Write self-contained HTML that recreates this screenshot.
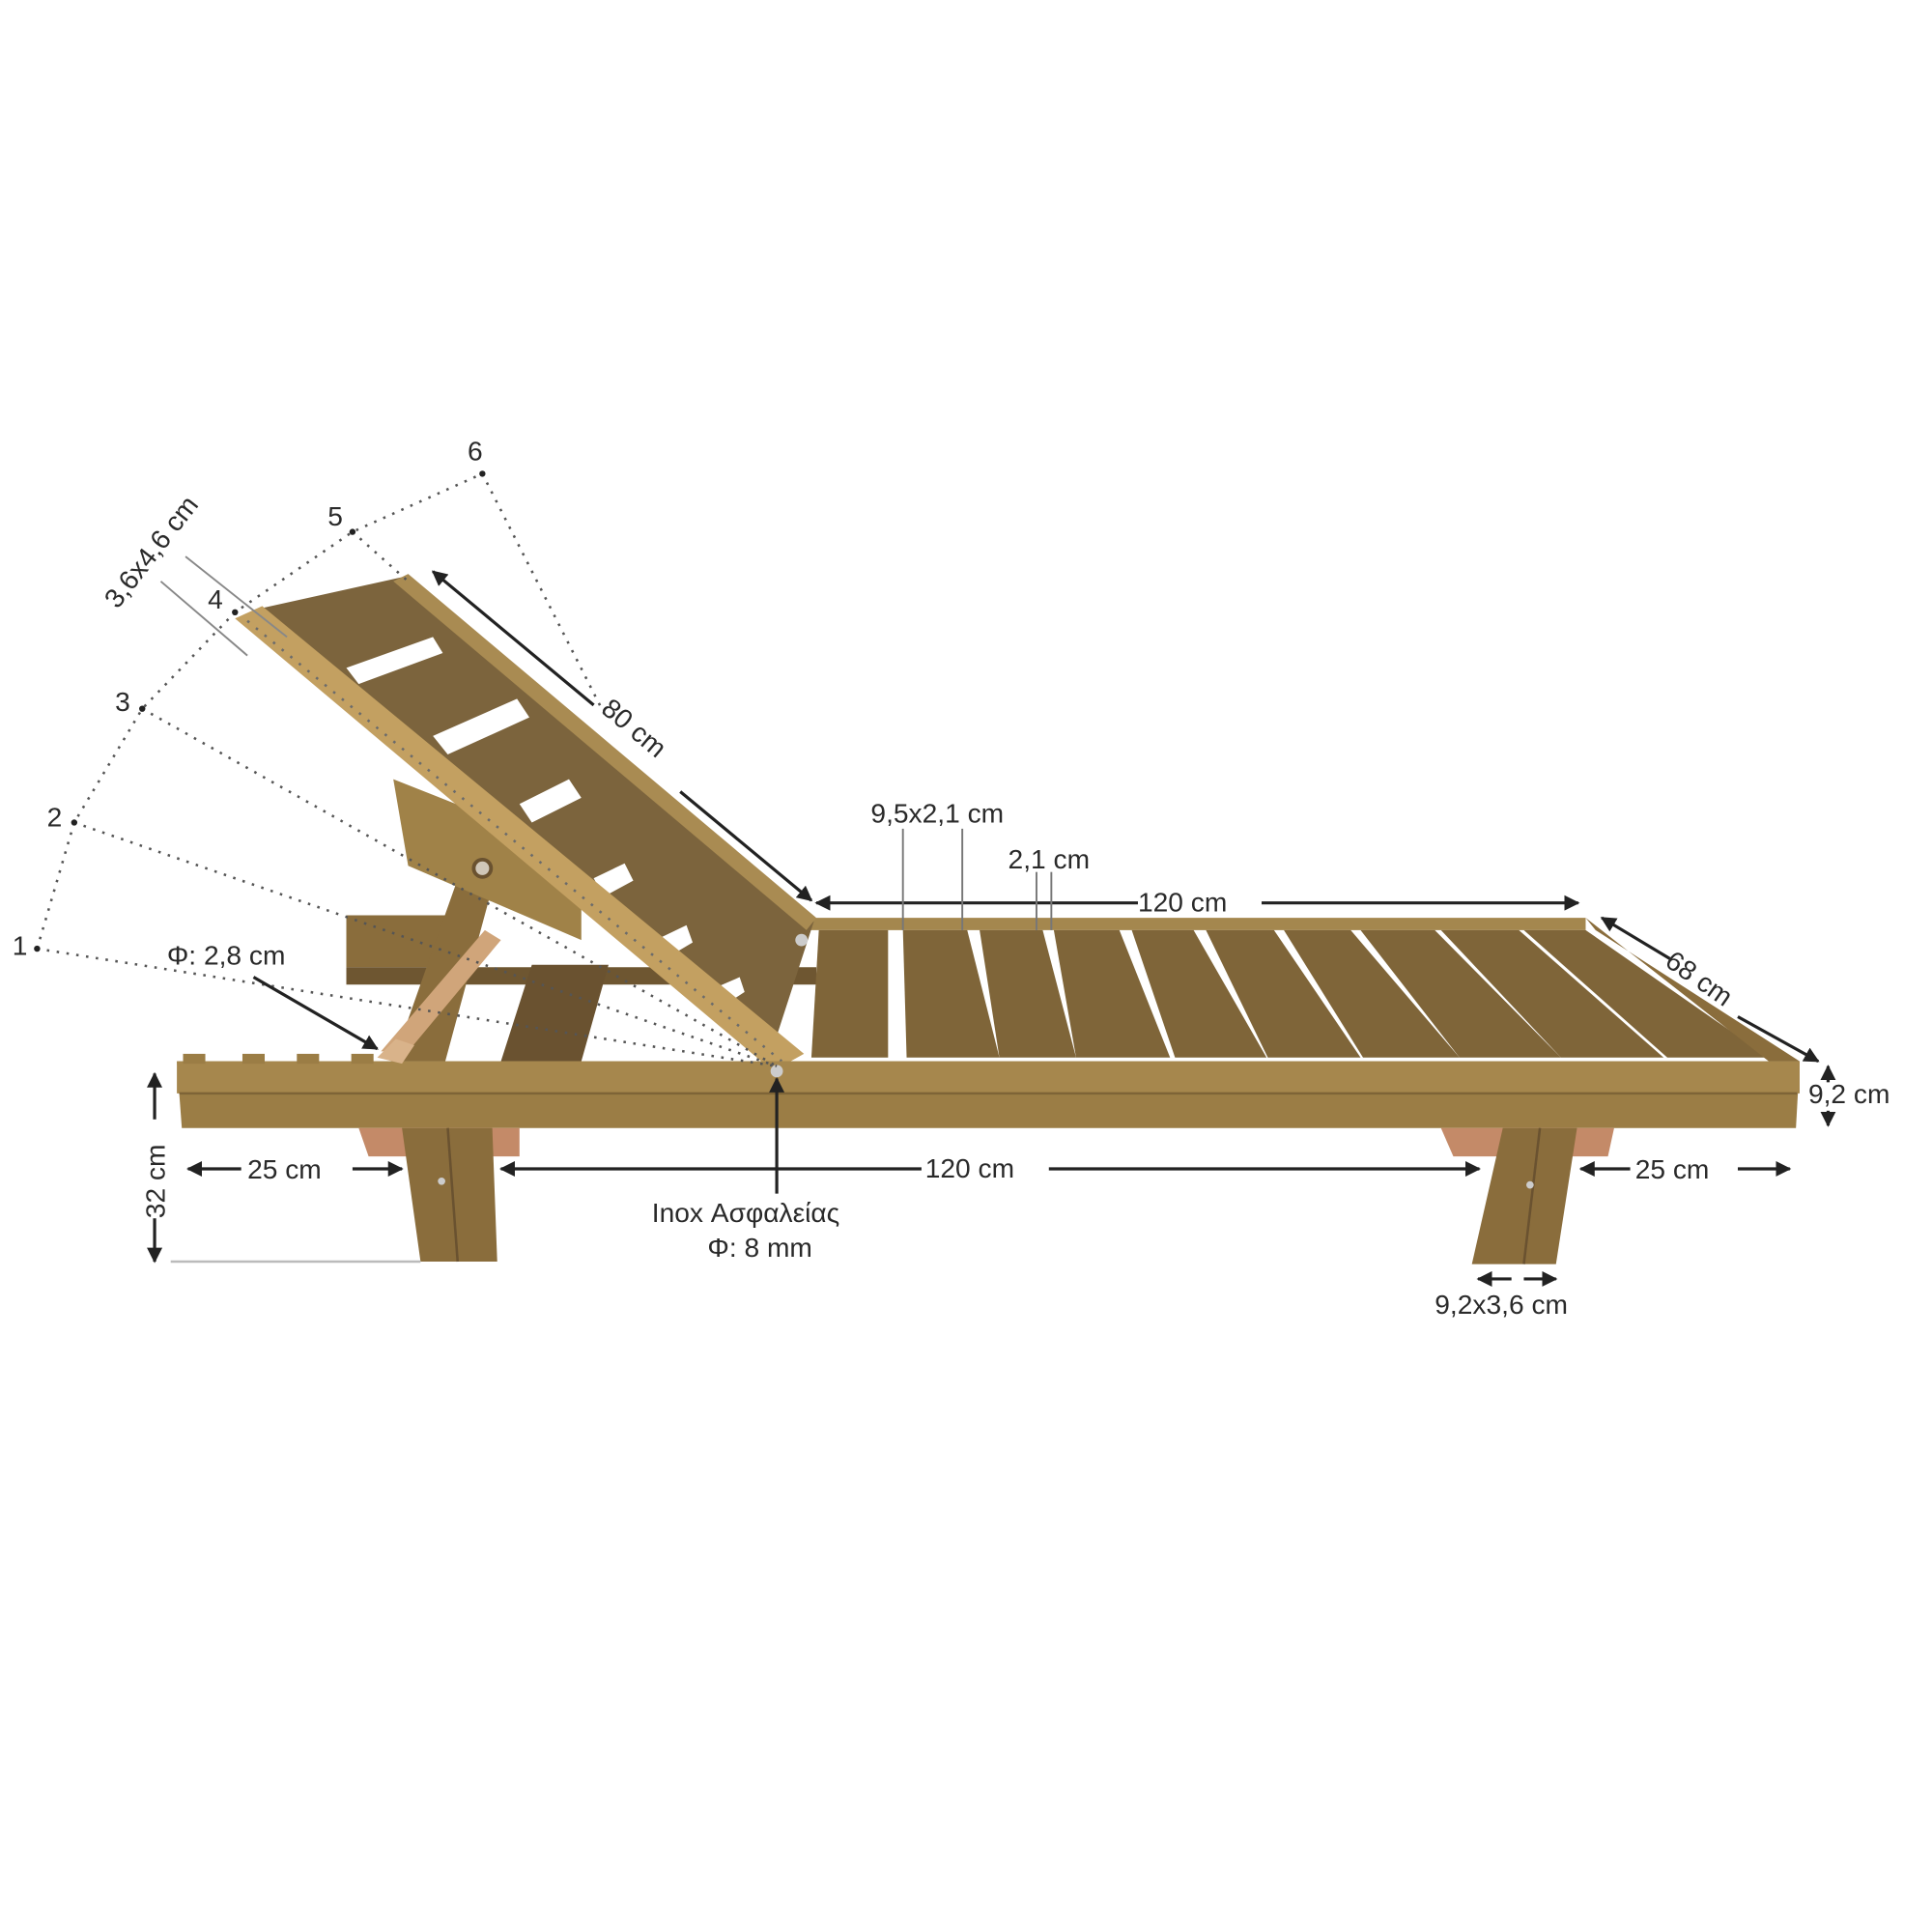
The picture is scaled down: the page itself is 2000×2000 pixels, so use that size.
<!DOCTYPE html>
<html><head><meta charset="utf-8"><style>
html,body{margin:0;padding:0;background:#fff;}
svg{display:block}
text{font-family:"Liberation Sans","DejaVu Sans",sans-serif;fill:#2a2a2a;font-size:22px}
</style></head><body>
<svg width="2000" height="2000" viewBox="0 0 1562 1562" xmlns="http://www.w3.org/2000/svg">
<defs>
<marker id="a" viewBox="0 0 10 10" refX="9" refY="5" markerWidth="5" markerHeight="5" orient="auto-start-reverse"><path d="M0,0 L10,5 L0,10 z" fill="#222"/></marker>
</defs>
<rect width="1562" height="1562" fill="#fff"/>

<!-- back rail (far side) -->
<polygon points="645,742 1282,742 1282,752 645,752" fill="#a4874e"/>
<polygon points="280,740 362,740 362,782 280,782" fill="#8a6d3c"/>
<polygon points="280,782 660,782 660,796 280,796" fill="#6e5631"/>
<!-- seat slats -->
<g fill="#7f6539">
<polygon points="662,752 718,752 718,855 656,855"/>
<polygon points="730,752 782,752 808,855 733,855"/>
<polygon points="792,752 843,752 870,855 808,855"/>
<polygon points="852,752 905,752 946,855 870,855"/>
<polygon points="915,752 965,752 1024,855 950,855"/>
<polygon points="975,752 1030,752 1100,855 1025,855"/>
<polygon points="1038,752 1092,752 1180,855 1102,855"/>
<polygon points="1100,752 1160,752 1262,855 1180,855"/>
<polygon points="1165,752 1228,752 1345,855 1262,855"/>
<polygon points="1232,752 1282,752 1430,855 1348,855"/>
</g>
<polygon points="1282,742 1290,752 1455,858 1430,858" fill="#8a6d3c"/>

<!-- support struts under backrest -->
<polygon points="372,705 400,710 360,858 318,858" fill="#8a6d3c"/>
<polygon points="430,780 492,780 470,858 405,858" fill="#6a5230"/>
<polygon points="318,630 470,690 470,760 330,700" fill="#a08248"/>
<polygon points="308,850 330,850 405,760 392,752" fill="#d0a57a"/>

<!-- backrest panel -->
<polygon points="210,492 328,466 658,745 622,856" fill="#7c643d"/>
<g fill="#fff">
<polygon points="280,540 350,515 358,528 290,553"/>
<polygon points="350,595 418,565 428,580 362,610"/>
<polygon points="420,650 460,630 470,645 430,665"/>
<polygon points="480,710 505,698 512,712 488,725"/>
<polygon points="530,760 555,748 560,762 538,775"/>
<polygon points="575,800 598,790 602,802 582,815"/>
</g>
<polygon points="318,470 330,464 660,742 652,752" fill="#a98b52"/>
<!-- backrest side frame -->
<polygon points="190,500 212,490 650,852 625,866" fill="#c3a061"/>
<line x1="200" y1="502" x2="632" y2="858" stroke="#6b6b6b" stroke-width="2" stroke-dasharray="2 7"/>
<circle cx="390" cy="702" r="7" fill="#d0c7b8" stroke="#6a5230" stroke-width="3"/>
<circle cx="648" cy="760" r="5" fill="#ccc"/>

<!-- front rail -->
<polygon points="143,858 1455,858 1452,912 147,912" fill="#9b7d45"/>
<polygon points="143,858 1455,858 1455,884 143,884" fill="#a6874d"/>
<line x1="145" y1="884" x2="1453" y2="884" stroke="#7e6437" stroke-width="2"/>
<g fill="#9b7d45"><rect x="148" y="852" width="18" height="8"/><rect x="196" y="852" width="18" height="8"/><rect x="240" y="852" width="18" height="8"/><rect x="284" y="852" width="18" height="8"/></g>
<polygon points="305,855 320,840 335,845 325,860" fill="#d9b38a"/>
<circle cx="628" cy="866" r="5" fill="#ccc"/>

<!-- legs -->
<polygon points="290,912 420,912 420,935 298,935" fill="#c48a68"/>
<polygon points="325,912 398,912 402,1020 340,1020" fill="#8a6d3c"/>
<line x1="362" y1="912" x2="370" y2="1020" stroke="#6a5230" stroke-width="2"/>
<circle cx="357" cy="955" r="3" fill="#ccc"/>
<polygon points="1165,912 1305,912 1300,935 1175,935" fill="#c48a68"/>
<polygon points="1215,912 1275,912 1258,1022 1190,1022" fill="#8a6d3c"/>
<line x1="1245" y1="912" x2="1232" y2="1022" stroke="#6a5230" stroke-width="2"/>
<circle cx="1237" cy="958" r="3" fill="#ccc"/>

<!-- angle dotted lines -->
<g stroke="#555" stroke-width="2" stroke-dasharray="2 6" fill="none">
<polyline points="30,767 60,665 115,573 190,495 285,430 390,383"/>
<line x1="30" y1="767" x2="628" y2="862"/>
<line x1="60" y1="665" x2="628" y2="862"/>
<line x1="115" y1="573" x2="628" y2="862"/>
<line x1="285" y1="430" x2="330" y2="470"/>
<line x1="390" y1="383" x2="490" y2="580"/>
</g>
<g fill="#222"><circle cx="30" cy="767" r="2.5"/><circle cx="60" cy="665" r="2.5"/><circle cx="115" cy="573" r="2.5"/><circle cx="190" cy="495" r="2.5"/><circle cx="285" cy="430" r="2.5"/><circle cx="390" cy="383" r="2.5"/></g>
<text x="10" y="772">1</text><text x="38" y="668">2</text><text x="93" y="575">3</text><text x="168" y="492">4</text><text x="265" y="425">5</text><text x="378" y="372">6</text>

<!-- 3,6x4,6 -->
<line x1="150" y1="450" x2="232" y2="515" stroke="#888" stroke-width="1.5"/>
<line x1="130" y1="470" x2="200" y2="530" stroke="#888" stroke-width="1.5"/>
<text transform="translate(95,493) rotate(-52)">3,6x4,6 cm</text>

<!-- dimension arrows -->
<g stroke="#222" stroke-width="2.5" fill="none">
<line x1="350" y1="462" x2="480" y2="570" marker-start="url(#a)"/>
<line x1="550" y1="640" x2="656" y2="728" marker-end="url(#a)"/>
<line x1="660" y1="730" x2="920" y2="730" marker-start="url(#a)"/>
<line x1="1020" y1="730" x2="1276" y2="730" marker-end="url(#a)"/>
<line x1="1295" y1="742" x2="1350" y2="775" marker-start="url(#a)"/>
<line x1="1405" y1="822" x2="1470" y2="858" marker-end="url(#a)"/>
<line x1="1478" y1="875" x2="1478" y2="862" marker-end="url(#a)"/>
<line x1="1478" y1="898" x2="1478" y2="910" marker-end="url(#a)"/>
<line x1="125" y1="905" x2="125" y2="868" marker-end="url(#a)"/>
<line x1="125" y1="985" x2="125" y2="1020" marker-end="url(#a)"/>
<line x1="152" y1="945" x2="195" y2="945" marker-start="url(#a)"/>
<line x1="285" y1="945" x2="325" y2="945" marker-end="url(#a)"/>
<line x1="405" y1="945" x2="745" y2="945" marker-start="url(#a)"/>
<line x1="848" y1="945" x2="1196" y2="945" marker-end="url(#a)"/>
<line x1="1278" y1="945" x2="1318" y2="945" marker-start="url(#a)"/>
<line x1="1405" y1="945" x2="1447" y2="945" marker-end="url(#a)"/>
<line x1="1195" y1="1034" x2="1222" y2="1034" marker-start="url(#a)"/>
<line x1="1232" y1="1034" x2="1258" y2="1034" marker-end="url(#a)"/>
<line x1="205" y1="790" x2="305" y2="848" marker-end="url(#a)"/>
<line x1="628" y1="965" x2="628" y2="872" marker-end="url(#a)"/>
</g>
<line x1="138" y1="1020" x2="340" y2="1020" stroke="#bbb" stroke-width="2"/>
<g stroke="#777" stroke-width="1.5">
<line x1="730" y1="670" x2="730" y2="752"/><line x1="778" y1="670" x2="778" y2="752"/>
<line x1="838" y1="705" x2="838" y2="752"/><line x1="850" y1="705" x2="850" y2="752"/>
</g>

<text transform="translate(485,575) rotate(40)">80 cm</text>
<text x="920" y="737">120 cm</text>
<text x="704" y="665">9,5x2,1 cm</text>
<text x="815" y="702">2,1 cm</text>
<text transform="translate(1345,780) rotate(35)">68 cm</text>
<text x="1462" y="892">9,2 cm</text>
<text transform="translate(133,985) rotate(-90)">32 cm</text>
<text x="200" y="953">25 cm</text>
<text x="748" y="952">120 cm</text>
<text x="1322" y="953">25 cm</text>
<text x="135" y="780">Φ: 2,8 cm</text>
<text x="527" y="988">Inox Ασφαλείας</text>
<text x="572" y="1016">Φ: 8 mm</text>
<text x="1160" y="1062">9,2x3,6 cm</text>
</svg>
</body></html>
